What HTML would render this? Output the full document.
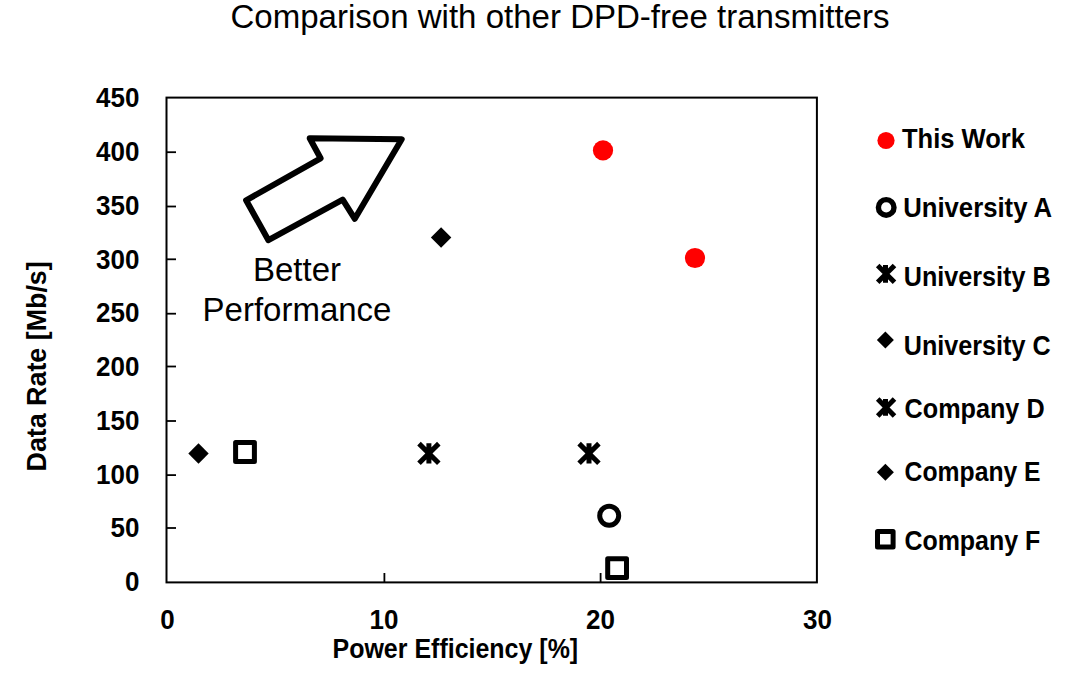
<!DOCTYPE html>
<html>
<head>
<meta charset="utf-8">
<style>
html,body{margin:0;padding:0;background:#fff;}
body{width:1080px;height:675px;overflow:hidden;}
svg{display:block;}
text{font-family:"Liberation Sans",sans-serif;fill:#000;}
.b{font-weight:bold;font-size:27px;}
</style>
</head>
<body>
<svg width="1080" height="675" viewBox="0 0 1080 675">
<rect x="0" y="0" width="1080" height="675" fill="#fff"/>
<!-- title -->
<text x="230.5" y="28.2" font-size="33.4" textLength="659" lengthAdjust="spacingAndGlyphs">Comparison with other DPD-free transmitters</text>

<!-- frame -->
<rect x="166.5" y="97.6" width="650.4" height="484.8" fill="none" stroke="#000" stroke-width="2"/>
<!-- ticks -->
<g stroke="#000" stroke-width="1.8">
<line x1="166.5" y1="528.0" x2="176" y2="528.0"/>
<line x1="166.5" y1="475.1" x2="176" y2="475.1"/>
<line x1="166.5" y1="421.0" x2="176" y2="421.0"/>
<line x1="166.5" y1="366.5" x2="176" y2="366.5"/>
<line x1="166.5" y1="313.7" x2="176" y2="313.7"/>
<line x1="166.5" y1="259.3" x2="176" y2="259.3"/>
<line x1="166.5" y1="206.5" x2="176" y2="206.5"/>
<line x1="166.5" y1="152.2" x2="176" y2="152.2"/>
<line x1="384.4" y1="573" x2="384.4" y2="582.4"/>
<line x1="600.6" y1="573" x2="600.6" y2="582.4"/>
</g>

<!-- y tick labels -->
<g class="b" text-anchor="end" font-size="28">
<text x="139.5" y="591.2" textLength="14.46" lengthAdjust="spacingAndGlyphs">0</text>
<text x="139.5" y="537.4" textLength="28.92" lengthAdjust="spacingAndGlyphs">50</text>
<text x="139.5" y="483.6" textLength="43.38" lengthAdjust="spacingAndGlyphs">100</text>
<text x="139.5" y="429.9" textLength="43.38" lengthAdjust="spacingAndGlyphs">150</text>
<text x="139.5" y="376.1" textLength="43.38" lengthAdjust="spacingAndGlyphs">200</text>
<text x="139.5" y="322.3" textLength="43.38" lengthAdjust="spacingAndGlyphs">250</text>
<text x="139.5" y="268.5" textLength="43.38" lengthAdjust="spacingAndGlyphs">300</text>
<text x="139.5" y="214.8" textLength="43.38" lengthAdjust="spacingAndGlyphs">350</text>
<text x="139.5" y="161.0" textLength="43.38" lengthAdjust="spacingAndGlyphs">400</text>
<text x="139.5" y="107.2" textLength="43.38" lengthAdjust="spacingAndGlyphs">450</text>
</g>
<!-- x tick labels -->
<g class="b" text-anchor="middle" font-size="28">
<text x="167.5" y="629.4" textLength="14.46" lengthAdjust="spacingAndGlyphs">0</text>
<text x="384" y="629.4" textLength="28.92" lengthAdjust="spacingAndGlyphs">10</text>
<text x="600.5" y="629.4" textLength="28.92" lengthAdjust="spacingAndGlyphs">20</text>
<text x="817.5" y="629.4" textLength="28.92" lengthAdjust="spacingAndGlyphs">30</text>
</g>

<!-- axis titles -->
<text class="b" x="332.5" y="658.1" textLength="245.7" lengthAdjust="spacingAndGlyphs">Power Efficiency [%]</text>
<text class="b" transform="translate(45.9,471.5) rotate(-90)" x="0" y="0" textLength="210.2" lengthAdjust="spacingAndGlyphs">Data Rate [Mb/s]</text>

<!-- arrow -->
<path d="M246.1,200.3 L268.4,240.2 L342.7,199.7 L354.8,218.8 L401.7,139.3 L309.7,138.3 L320.6,158.3 Z" fill="none" stroke="#000" stroke-width="6" stroke-linejoin="round"/>
<text x="297" y="280.8" font-size="33" text-anchor="middle">Better</text>
<text x="297" y="320.6" font-size="33" text-anchor="middle">Performance</text>

<!-- data -->
<circle cx="603" cy="150.4" r="10.1" fill="#f00"/>
<circle cx="695" cy="258" r="10.1" fill="#f00"/>
<circle cx="609.2" cy="515.7" r="9.5" fill="none" stroke="#000" stroke-width="5"/>
<rect x="235.6" y="442.6" width="18.8" height="18.8" fill="none" stroke="#000" stroke-width="5" stroke-linejoin="round"/>
<rect x="607.7" y="558.8" width="18.8" height="18.8" fill="none" stroke="#000" stroke-width="5" stroke-linejoin="round"/>
<path d="M198.5,443.3 L208.7,453.5 L198.5,463.7 L188.3,453.5 Z" fill="#000"/>
<path d="M441.1,227.3 L451.3,237.5 L441.1,247.7 L430.9,237.5 Z" fill="#000"/>
<g stroke="#000" stroke-width="5">
<path d="M419,443.6 L438.8,463.2 M438.8,443.6 L419,463.2 M428.9,443.3 L428.9,463.5"/>
<path d="M579.1,443.6 L598.9,463.2 M598.9,443.6 L579.1,463.2 M589,443.3 L589,463.5"/>
</g>

<!-- legend -->
<circle cx="886" cy="140.5" r="8.6" fill="#f00"/>
<circle cx="886.2" cy="207.4" r="7.8" fill="none" stroke="#000" stroke-width="5.4"/>
<g stroke="#000" stroke-width="5">
<path d="M877.7,265.5 L894.5,282.3 M894.5,265.5 L877.7,282.3 M885.5,265.1 L885.5,282.8"/>
<path d="M877.7,399.1 L894.5,415.9 M894.5,399.1 L877.7,415.9 M885.5,399.1 L885.5,415.7"/>
</g>
<path d="M885.4,331.5 L893.9,340 L885.4,348.5 L876.9,340 Z" fill="#000"/>
<path d="M885.4,463.8 L893.9,472.3 L885.4,480.8 L876.9,472.3 Z" fill="#000"/>
<rect x="877.5" y="531.4" width="15.6" height="15.6" fill="none" stroke="#000" stroke-width="5" stroke-linejoin="round"/>

<g class="b">
<text x="902" y="148.1" textLength="123" lengthAdjust="spacingAndGlyphs">This Work</text>
<text x="903.2" y="216.5" textLength="149" lengthAdjust="spacingAndGlyphs">University A</text>
<text x="903.8" y="285.7" textLength="146.8" lengthAdjust="spacingAndGlyphs">University B</text>
<text x="903.8" y="355.2" textLength="146.8" lengthAdjust="spacingAndGlyphs">University C</text>
<text x="904.6" y="418" textLength="140" lengthAdjust="spacingAndGlyphs">Company D</text>
<text x="904.6" y="480.9" textLength="136" lengthAdjust="spacingAndGlyphs">Company E</text>
<text x="904.4" y="550" textLength="135.9" lengthAdjust="spacingAndGlyphs">Company F</text>
</g>
</svg>
</body>
</html>
